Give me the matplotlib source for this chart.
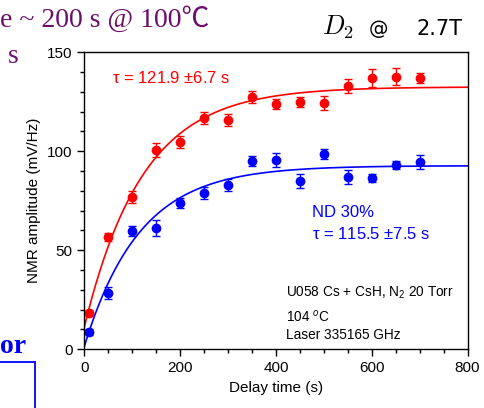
import numpy as np
import matplotlib
matplotlib.use('Agg')
import matplotlib.pyplot as plt
from matplotlib.patches import Rectangle

plt.rcParams['font.family'] = ['Liberation Sans', 'DejaVu Sans']
plt.rcParams['mathtext.fontset'] = 'custom'
plt.rcParams['mathtext.rm'] = 'Liberation Sans'
plt.rcParams['mathtext.it'] = 'Liberation Sans:italic'

# delay times (s)
delay = [10, 50, 100, 150, 200, 250, 300, 350, 400, 450, 500, 550, 600, 650, 700]

# D2, no filter
red_amp = [18.4, 56.6, 77.0, 100.6, 104.8, 117.0, 115.6, 127.3, 123.9, 124.7, 124.4, 133.1, 136.9, 137.7, 136.9]
red_err = [1.5, 2.0, 3.0, 3.5, 3.0, 3.0, 3.0, 3.0, 2.5, 2.5, 3.5, 3.5, 4.5, 4.5, 2.5]

# ND 30%
blue_amp = [8.6, 28.3, 59.7, 61.4, 74.0, 78.8, 82.8, 95.1, 95.6, 85.0, 98.6, 87.0, 86.5, 93.1, 94.6]
blue_err = [1.5, 3.0, 2.5, 4.0, 2.5, 3.0, 3.0, 2.5, 3.5, 3.5, 2.5, 3.5, 2.0, 2.0, 3.5]

# exponential fits: amp(t) = A - (A - y0) * exp(-t / tau)
red_fit = dict(A=132.5, y0=11.0, tau=121.9)
blue_fit = dict(A=92.7, y0=1.3, tau=115.5)

fig = plt.figure(figsize=(4.84, 4.08), dpi=100)
ax = fig.add_axes([0.174, 0.144, 0.792, 0.728])

t = np.linspace(0, 800, 400)
for p, c in [(red_fit, 'red'), (blue_fit, 'blue')]:
    ax.plot(t, p['A'] - (p['A'] - p['y0']) * np.exp(-t / p['tau']), color=c, lw=1.2)

ax.errorbar(delay, red_amp, yerr=red_err, fmt='o', color='red', ms=6,
            capsize=3, elinewidth=1, capthick=1)
ax.errorbar(delay, blue_amp, yerr=blue_err, fmt='o', color='blue', ms=6,
            capsize=3, elinewidth=1, capthick=1)

ax.set_xlim(0, 800)
ax.set_ylim(0, 150)
ax.set_xticks([0, 200, 400, 600, 800])
ax.set_xticks(np.arange(0, 801, 50), minor=True)
ax.set_yticks([0, 50, 100, 150])
ax.set_yticks(np.arange(0, 151, 10), minor=True)
ax.tick_params(which='both', direction='out', labelsize=11, width=1)
ax.tick_params(which='major', length=5)
ax.tick_params(which='minor', length=3)
for s in ax.spines.values():
    s.set_linewidth(1)
ax.set_xlabel('Delay time (s)', fontsize=11, labelpad=4)
ax.set_ylabel('NMR amplitude (mV/Hz)', fontsize=11, labelpad=4)

ax.text(57, 137, '\u03c4 = 121.9 $\\pm$6.7 s', color='red', fontsize=12, va='center')
ax.text(475, 69, 'ND 30%', color='blue', fontsize=12, va='center')
ax.text(475, 58, '\u03c4 = 115.5 $\\pm$7.5 s', color='blue', fontsize=12, va='center')
ax.text(422, 28.6, 'U058 Cs + CsH, N$_2$ 20 Torr', fontsize=9.8, va='center')
ax.text(422, 16.5, '104 $^o$C', fontsize=9.8, va='center')
ax.text(422, 7.2, 'Laser 335165 GHz', fontsize=9.8, va='center')

# title pieces: D2 in math italic, the rest sans
fig.text(322 / 484, 1 - 35 / 408, '$D_2$', fontsize=19, va='baseline',
         math_fontfamily='cm')
fig.text(369 / 484, 1 - 35 / 408, '@', fontsize=14, va='baseline', family='DejaVu Sans')
fig.text(463 / 484, 1 - 35 / 408, '2.7T', fontsize=15, ha='right', va='baseline',
         family='DejaVu Sans')

# fragments of the surrounding slide
purple = '#6b0f6b'
fig.text(0.0, 1 - 27 / 408, 'e ~ 200 s @ 100\u2103', fontsize=20, color=purple,
         family=['Liberation Serif', 'Noto Sans CJK SC'], va='baseline')
fig.text(8 / 484, 1 - 63 / 408, 's', fontsize=20, color=purple,
         family='Liberation Serif', va='baseline')
fig.text(0.0, 1 - 353 / 408, 'or', fontsize=20, color='blue', weight='bold',
         family='Liberation Serif', va='baseline')
fig.add_artist(Rectangle((-0.01, -0.01), 35 / 484 + 0.01, (408 - 362) / 408 + 0.01,
                         transform=fig.transFigure, fill=False, edgecolor='blue', lw=1.3))

fig.savefig('out.png', dpi=100)
